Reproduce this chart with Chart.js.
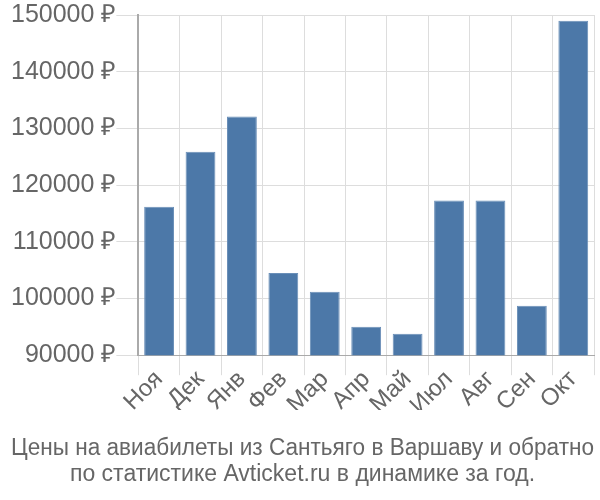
<!DOCTYPE html>
<html>
<head>
<meta charset="utf-8">
<script src="https://cdn.jsdelivr.net/npm/chart.js@4"></script>
<style>
  html, body { margin: 0; padding: 0; background: #fff; }
  #wrap { width: 600px; height: 500px; }
</style>
</head>
<body>
<div id="wrap"><canvas id="chart"></canvas></div>
<script>
// Цены по месяцам (руб.)
const months = ['Ноя', 'Дек', 'Янв', 'Фев', 'Мар', 'Апр', 'Май', 'Июл', 'Авг', 'Сен', 'Окт'];
const prices = [116200, 125900, 132100, 104500, 101200, 95000, 93800, 117300, 117300, 98700, 149000];
const yMin = 90000;
const yMax = 150000;
const yStep = 10000;
const titleLines = [
  'Цены на авиабилеты из Сантьяго в Варшаву и обратно',
  'по статистике Avticket.ru в динамике за год.'
];

const FONT = "'Liberation Sans', Arial, sans-serif";
const TEXT = '#666';

new Chart(document.getElementById('chart'), {
  type: 'bar',
  data: {
    labels: months,
    datasets: [{
      data: prices,
      backgroundColor: '#4c78a8',
      borderColor: '#6a8fb8',
      borderWidth: 1,
      categoryPercentage: 0.72,
      barPercentage: 1,
    }],
  },
  options: {
    responsive: true,
    maintainAspectRatio: false,
    animation: false,
    layout: { padding: { top: 4, right: 6, left: 11, bottom: 0 } },
    scales: {
      x: {
        grid: { color: '#ddd', tickLength: 20 },
        border: { color: '#aaa' },
        ticks: {
          color: TEXT,
          font: { family: FONT, size: 24 },
          minRotation: 45,
          maxRotation: 45,
          autoSkip: false,
          padding: -10,
        },
      },
      y: {
        min: yMin,
        max: yMax,
        grid: { color: '#ddd', tickLength: 22 },
        border: { color: '#aaa', width: 2 },
        ticks: {
          stepSize: yStep,
          color: TEXT,
          font: { family: FONT, size: 25 },
          padding: 0,
          callback: v => v + ' ₽',
        },
      },
    },
    plugins: {
      legend: { display: false },
      tooltip: { enabled: false },
      title: {
        display: true,
        position: 'bottom',
        text: titleLines,
        color: TEXT,
        font: { family: FONT, size: 23, weight: 'normal', lineHeight: 1.13 },
        padding: { top: 26, bottom: 12 },
      },
    },
  },
});
</script>
</body>
</html>
